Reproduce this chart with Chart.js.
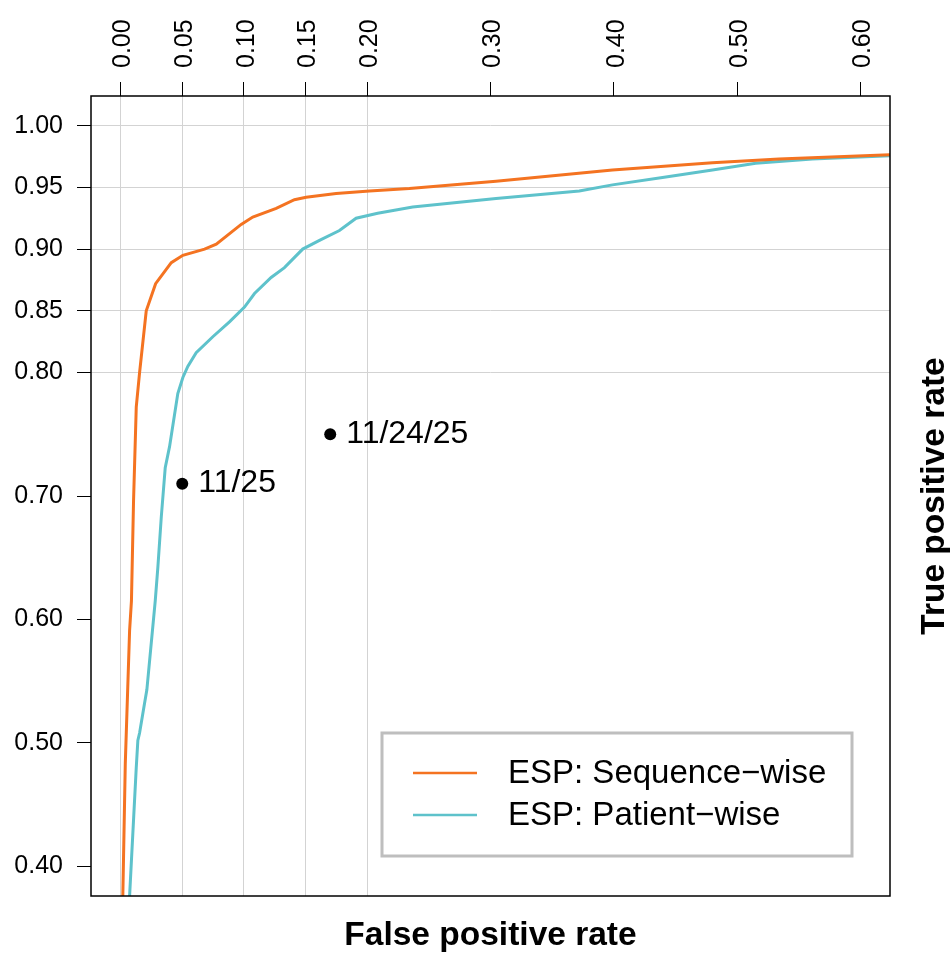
<!DOCTYPE html>
<html>
<head>
<meta charset="utf-8">
<script src="https://cdn.jsdelivr.net/npm/chart.js@4/dist/chart.umd.min.js"></script>
<style>
  body { margin: 0; background: #fff; }
  #wrap { width: 950px; height: 954px; }
</style>
</head>
<body>
<div id="wrap"><canvas id="roc"></canvas></div>
<script>
const seriesLabels = ["ESP: Sequence\u2212wise", "ESP: Patient\u2212wise"];

const seqFpr = [0.0018, 0.0038, 0.0073, 0.0088, 0.0105, 0.0127, 0.0154, 0.0208, 0.0284, 0.0411, 0.0505, 0.0681, 0.0776, 0.0978, 0.1072, 0.1262, 0.1410, 0.1505, 0.1748, 0.2018, 0.2342, 0.3045, 0.3989, 0.4800, 0.5340, 0.6240];
const seqTpr = [0.376, 0.483, 0.591, 0.615, 0.696, 0.772, 0.800, 0.850, 0.872, 0.889, 0.895, 0.900, 0.904, 0.920, 0.926, 0.933, 0.940, 0.942, 0.945, 0.947, 0.949, 0.955, 0.964, 0.970, 0.973, 0.9765];

const patFpr = [0.0073, 0.0127, 0.0140, 0.0154, 0.0194, 0.0213, 0.0281, 0.0302, 0.0330, 0.0362, 0.0397, 0.0464, 0.0505, 0.0545, 0.0613, 0.0748, 0.0883, 0.1005, 0.1086, 0.1221, 0.1329, 0.1477, 0.1613, 0.1775, 0.1910, 0.2085, 0.2369, 0.3045, 0.3720, 0.3989, 0.4395, 0.4800, 0.5151, 0.5610, 0.6240];
const patTpr = [0.376, 0.480, 0.502, 0.508, 0.532, 0.543, 0.615, 0.642, 0.683, 0.723, 0.740, 0.783, 0.796, 0.805, 0.816, 0.829, 0.841, 0.853, 0.864, 0.877, 0.885, 0.900, 0.907, 0.915, 0.925, 0.929, 0.934, 0.941, 0.947, 0.952, 0.958, 0.964, 0.9695, 0.973, 0.9757];

const pointFpr = [0.05, 0.17];
const pointTpr = [0.71, 0.75];
const pointLabels = ["11/25", "11/24/25"];

const xTicks = [0, 0.05, 0.1, 0.15, 0.2, 0.3, 0.4, 0.5, 0.6];
const yTicks = [0.4, 0.5, 0.6, 0.7, 0.8, 0.85, 0.9, 0.95, 1.0];
const xGrid = [0, 0.05, 0.1, 0.15, 0.2];
const yGrid = [0.8, 0.85, 0.9, 0.95, 1.0];

const colors = ["#f47321", "#5ec2cb"];
const FONT = "'Liberation Sans', Arial, Helvetica, sans-serif";

Chart.defaults.font.family = FONT;
Chart.defaults.color = "#000";

const toPoints = (xs, ys) => xs.map((x, i) => ({ x, y: ys[i] }));

// box, axis titles, legend and point labels drawn on top of the chart area
const extras = {
  id: "extras",
  afterDatasetsDraw(chart) {
    const { ctx, chartArea: a } = chart;
    ctx.save();

    const meta = chart.getDatasetMeta(2);
    ctx.font = `32px ${FONT}`;
    ctx.fillStyle = "#000";
    ctx.textAlign = "left";
    ctx.textBaseline = "middle";
    meta.data.forEach((pt, i) => ctx.fillText(pointLabels[i], pt.x + 16, pt.y));

    ctx.strokeStyle = "#000";
    ctx.lineWidth = 1.5;
    ctx.strokeRect(a.left, a.top, a.right - a.left, a.bottom - a.top);

    // legend
    const w = 470, h = 123;
    const lx = a.right - 38 - w, ly = a.bottom - 40 - h;
    ctx.fillStyle = "#fff";
    ctx.fillRect(lx, ly, w, h);
    ctx.strokeStyle = "#bebebe";
    ctx.lineWidth = 3;
    ctx.strokeRect(lx, ly, w, h);
    chart.data.datasets.slice(0, 2).forEach((ds, i) => {
      const y = ly + 40 + i * 42;
      ctx.strokeStyle = ds.borderColor;
      ctx.lineWidth = 2.5;
      ctx.beginPath();
      ctx.moveTo(lx + 31, y);
      ctx.lineTo(lx + 95, y);
      ctx.stroke();
      ctx.fillStyle = "#000";
      ctx.font = `33px ${FONT}`;
      ctx.fillText(ds.label, lx + 126, y + 1);
    });

    // axis titles
    ctx.font = `bold 33.5px ${FONT}`;
    ctx.textAlign = "center";
    ctx.textBaseline = "alphabetic";
    ctx.fillText("False positive rate", (a.left + a.right) / 2, a.bottom + 49);
    ctx.translate(a.right + 54, (a.top + a.bottom) / 2);
    ctx.rotate(-Math.PI / 2);
    ctx.fillText("True positive rate", 0, 0);

    ctx.restore();
  }
};

new Chart(document.getElementById("roc"), {
  type: "scatter",
  data: {
    datasets: [
      {
        label: seriesLabels[0],
        data: toPoints(seqFpr, seqTpr),
        showLine: true,
        borderColor: colors[0],
        borderWidth: 3,
        pointRadius: 0,
        tension: 0,
        clip: 0
      },
      {
        label: seriesLabels[1],
        data: toPoints(patFpr, patTpr),
        showLine: true,
        borderColor: colors[1],
        borderWidth: 3,
        pointRadius: 0,
        tension: 0,
        clip: 0
      },
      {
        label: "points",
        data: toPoints(pointFpr, pointTpr),
        pointRadius: 6,
        pointBackgroundColor: "#000",
        pointBorderWidth: 0
      }
    ]
  },
  options: {
    responsive: true,
    maintainAspectRatio: false,
    animation: false,
    layout: { padding: { left: 0, top: 0, right: 60, bottom: 58 } },
    plugins: { legend: { display: false }, tooltip: { enabled: false } },
    scales: {
      x: {
        type: "linear",
        position: "top",
        min: -0.024,
        max: 0.624,
        afterBuildTicks: (s) => { s.ticks = xTicks.map((v) => ({ value: v })); },
        afterFit: (s) => { s.height = 96; },
        ticks: {
          autoSkip: false,
          minRotation: 90,
          maxRotation: 90,
          padding: 14,
          labelOffset: 33,
          color: "#000",
          font: { size: 25 },
          callback: (v) => v.toFixed(2)
        },
        grid: {
          color: (c) => (c.tick && xGrid.includes(c.tick.value) ? "#d3d3d3" : "rgba(0,0,0,0)"),
          tickColor: "#000",
          tickLength: 14,
          lineWidth: 1
        },
        border: { display: false }
      },
      y: {
        type: "linear",
        position: "left",
        min: 0.376,
        max: 1.024,
        afterBuildTicks: (s) => { s.ticks = yTicks.map((v) => ({ value: v })); },
        afterFit: (s) => { s.width = 91; },
        ticks: {
          autoSkip: false,
          padding: 14,
          color: "#000",
          font: { size: 25 },
          callback: (v) => v.toFixed(2)
        },
        grid: {
          color: (c) => (c.tick && yGrid.includes(c.tick.value) ? "#d3d3d3" : "rgba(0,0,0,0)"),
          tickColor: "#000",
          tickLength: 14,
          lineWidth: 1
        },
        border: { display: false }
      }
    }
  },
  plugins: [extras]
});
</script>
</body>
</html>
